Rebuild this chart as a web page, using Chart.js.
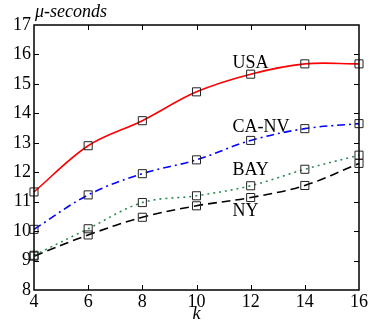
<!DOCTYPE html>
<html>
<head>
<meta charset="utf-8">
<script src="https://cdn.jsdelivr.net/npm/chart.js@4"></script>
<style>
  html, body { margin: 0; padding: 0; background: #fff; }
</style>
</head>
<body>
<canvas id="chart" width="375" height="327"></canvas>
<script>
const kValues = [4, 6, 8, 10, 12, 14, 16];
const usa = [11.33, 12.9, 13.75, 14.73, 15.33, 15.68, 15.68];
const caNv = [10.06, 11.23, 11.95, 12.42, 13.08, 13.48, 13.65];
const bay = [9.18, 10.08, 10.97, 11.2, 11.54, 12.1, 12.58];
const ny = [9.15, 9.87, 10.47, 10.86, 11.14, 11.55, 12.3];
const seriesNames = ["USA", "CA-NV", "BAY", "NY"];
const yTicks = [8, 9, 10, 11, 12, 13, 14, 15, 16, 17];
const xTicks = [4, 6, 8, 10, 12, 14, 16];

const serif = "'Liberation Serif', 'Times New Roman', serif";

// where the series names sit, in data units (k, value of baseline)
const nameSpots = [[11.33, 15.54], [11.33, 13.37], [11.33, 11.9], [11.33, 10.51]];

function series(label, values, color, dash) {
    return {
        label,
        data: kValues.map((k, i) => ({ x: k, y: values[i] })),
        borderColor: color,
        borderWidth: 1.6,
        borderDash: dash,
        tension: 0.35,
        fill: false,
        clip: false,
        pointStyle: "rect",
        pointRadius: 5.7,
        pointHoverRadius: 5.7,
        pointBorderWidth: 1,
        pointBorderColor: "#222",
        pointBackgroundColor: "rgba(0,0,0,0)"
    };
}

const frame = {
    id: "frame",
    afterDraw(chart) {
        const { ctx, chartArea: a, scales: { x, y } } = chart;
        ctx.save();
        ctx.strokeStyle = "#000";
        ctx.lineWidth = 1.5;
        ctx.strokeRect(a.left, a.top, a.right - a.left, a.bottom - a.top);

        ctx.lineWidth = 1;
        ctx.beginPath();
        xTicks.slice(1, -1).forEach(v => {
            const px = Math.round(x.getPixelForValue(v)) + 0.5;
            ctx.moveTo(px, a.bottom); ctx.lineTo(px, a.bottom - 5);
            ctx.moveTo(px, a.top); ctx.lineTo(px, a.top + 5);
        });
        yTicks.slice(1, -1).forEach(v => {
            const py = Math.round(y.getPixelForValue(v)) + 0.5;
            ctx.moveTo(a.left, py); ctx.lineTo(a.left + 5, py);
            ctx.moveTo(a.right, py); ctx.lineTo(a.right - 5, py);
        });
        ctx.stroke();

        ctx.fillStyle = "#000";
        ctx.textBaseline = "alphabetic";
        ctx.textAlign = "left";
        ctx.font = `18px ${serif}`;
        seriesNames.forEach((name, i) => {
            const [k, v] = nameSpots[i];
            ctx.fillText(name, x.getPixelForValue(k), y.getPixelForValue(v));
        });

        ctx.font = `italic 18px ${serif}`;
        ctx.fillText("\u03bc-seconds", a.left + 1, 17);
        ctx.textAlign = "center";
        ctx.fillText("k", x.getPixelForValue(10), 319);
        ctx.restore();
    }
};

new Chart(document.getElementById("chart"), {
    type: "line",
    data: {
        datasets: [
            series(seriesNames[0], usa, "#ff0000", []),
            series(seriesNames[1], caNv, "#0000ff", [8, 4, 2, 4]),
            series(seriesNames[2], bay, "#2e8b57", [2, 4]),
            series(seriesNames[3], ny, "#000000", [9, 5])
        ]
    },
    options: {
        responsive: false,
        animation: false,
        layout: { padding: { top: 25, right: 16, left: 0, bottom: 0 } },
        plugins: {
            legend: { display: false },
            title: { display: false },
            tooltip: { enabled: false }
        },
        scales: {
            x: {
                type: "linear",
                min: 4,
                max: 16,
                afterBuildTicks: s => { s.ticks = xTicks.map(v => ({ value: v })); },
                afterFit: s => { s.height = 37; },
                grid: { display: false, drawTicks: false },
                border: { display: false },
                ticks: { color: "#000", padding: 1, font: { family: serif, size: 18 } }
            },
            y: {
                min: 8,
                max: 17,
                afterBuildTicks: s => { s.ticks = yTicks.map(v => ({ value: v })); },
                afterFit: s => { s.width = 34; },
                grid: { display: false, drawTicks: false },
                border: { display: false },
                ticks: { color: "#000", padding: 3, font: { family: serif, size: 18 } }
            }
        }
    },
    plugins: [frame]
});
</script>
</body>
</html>
